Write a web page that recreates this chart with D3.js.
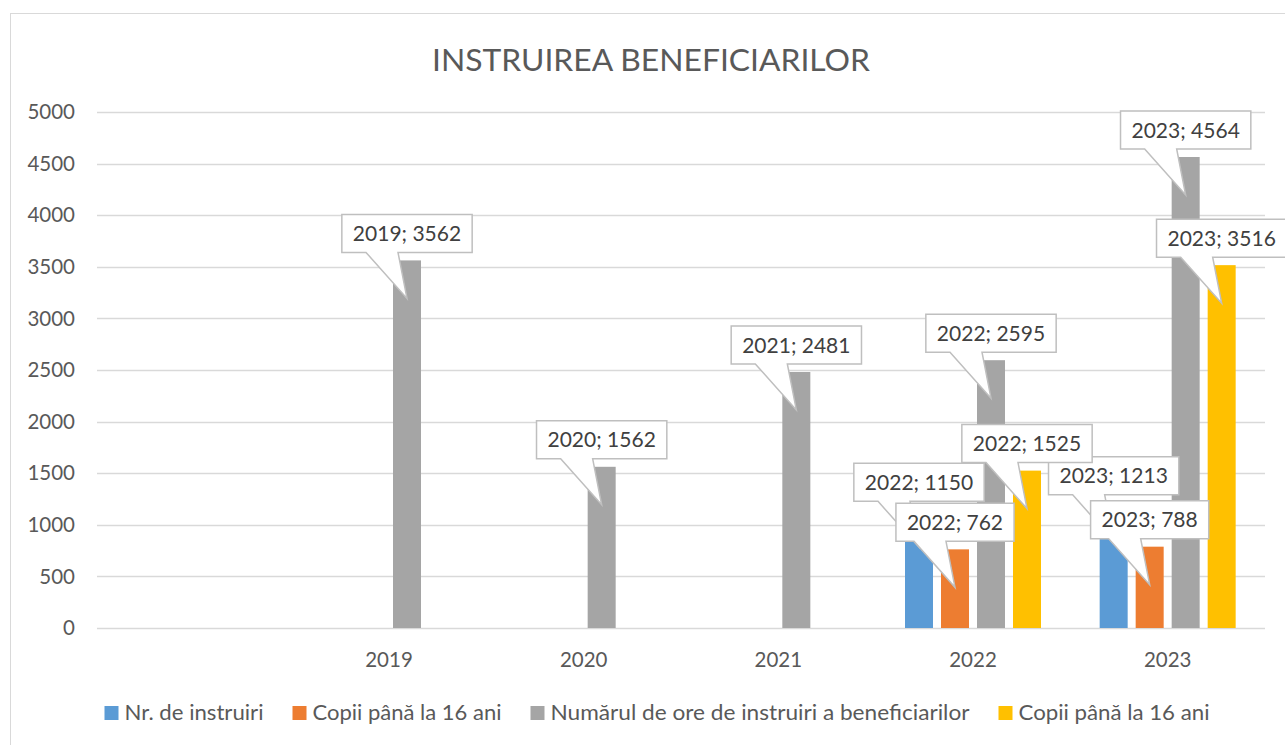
<!DOCTYPE html>
<html lang="ro">
<head>
<meta charset="UTF-8">
<title>Instruirea beneficiarilor</title>
<style>
    body { margin: 0; background: #fff; }
    text { font-family: Lato, "Open Sans", sans-serif; fill: #595959; }
    .callout text { fill: #404040; }
</style>
</head>
<body>
<svg id="main" width="1285" height="745"></svg>

<script src="https://cdn.jsdelivr.net/npm/d3@7"></script>
<script>
// data
var categories = ["", "2019", "2020", "2021", "2022", "2023"];
var seriesNames = ["Nr. de instruiri", "Copii până la 16 ani", "Numărul de ore de instruiri a beneficiarilor", "Copii până la 16 ani"];
var nrInstruiri = [null, null, null, null, 1150, 1213];
var copiiA = [null, null, null, null, 762, 788];
var oreInstruiri = [null, 3562, 1562, 2481, 2595, 4564];
var copiiB = [null, null, null, null, 1525, 3516];
var yTicks = [0, 500, 1000, 1500, 2000, 2500, 3000, 3500, 4000, 4500, 5000];
var colors = ["#5B9BD5", "#ED7D31", "#A5A5A5", "#FFC000"];

var seriesValues = [nrInstruiri, copiiA, oreInstruiri, copiiB];

var svg = d3.select("#main");
var plotL = 97, plotR = 1265, plotT = 112, plotB = 628;

// chart area border
svg.append("rect")
    .attr("x", 10.5).attr("y", 13.5)
    .attr("width", 1300).attr("height", 760)
    .attr("fill", "#fff").attr("stroke", "#d9d9d9");

svg.append("text")
    .attr("x", 651).attr("y", 71)
    .attr("text-anchor", "middle")
    .attr("textLength", 438)
    .attr("lengthAdjust", "spacingAndGlyphs")
    .style("font-size", "31px")
    .style("font-weight", 400)
    .text("INSTRUIREA BENEFICIARILOR");

var x = d3.scaleBand().domain(categories).range([plotL, plotR]).padding(0);
var groupW = 144;
var x1 = d3.scaleBand().domain(d3.range(4))
    .range([(x.bandwidth() - groupW) / 2, (x.bandwidth() + groupW) / 2])
    .paddingInner(8 / 36).paddingOuter(4 / 36);
var y = d3.scaleLinear().domain([0, 5000]).range([plotB, plotT]);

// gridlines
svg.append("g").selectAll("line").data(yTicks).join("line")
    .attr("x1", plotL).attr("x2", plotR)
    .attr("y1", function(d) { return Math.round(y(d)) + 0.5; })
    .attr("y2", function(d) { return Math.round(y(d)) + 0.5; })
    .attr("stroke", "#d9d9d9").attr("stroke-width", 1.5);

// y axis labels
svg.append("g").selectAll("text").data(yTicks).join("text")
    .attr("x", 75).attr("y", function(d) { return y(d); })
    .attr("dy", "0.35em")
    .attr("text-anchor", "end")
    .style("font-size", "20.5px")
    .text(function(d) { return d; });

// x axis labels
svg.append("g").selectAll("text").data(categories).join("text")
    .attr("x", function(d) { return x(d) + x.bandwidth() / 2; })
    .attr("y", 667)
    .attr("text-anchor", "middle")
    .style("font-size", "20.5px")
    .text(function(d) { return d; });

// bars
var points = [];
seriesValues.forEach(function(vals, s) {
    vals.forEach(function(v, i) {
        if (v == null) return;
        points.push({ s: s, cat: categories[i], v: v });
    });
});

svg.append("g").selectAll("rect").data(points).join("rect")
    .attr("x", function(d) { return x(d.cat) + x1(d.s); })
    .attr("y", function(d) { return y(d.v); })
    .attr("width", x1.bandwidth())
    .attr("height", function(d) { return plotB - y(d.v); })
    .attr("fill", function(d) { return colors[d.s]; });

// callout labels, drawn series by series
var boxH = 38, gap = 8;
var callouts = svg.append("g").attr("class", "callout");
points.forEach(function(d) {
    var cx = x(d.cat) + x1(d.s) + x1.bandwidth() / 2;
    var yTop = y(d.v);
    var g = callouts.append("g");
    var path = g.append("path");
    var t = g.append("text")
        .attr("text-anchor", "middle")
        .style("font-size", "21px")
        .text(d.cat + "; " + d.v);
    var w = t.node().getComputedTextLength() + 22;
    var x0 = cx - w / 2, x2 = cx + w / 2;
    var y1 = yTop - gap, y0 = y1 - boxH;
    var tipY = yTop + 38;
    path.attr("d", "M" + x0 + "," + y0 + "H" + x2 + "V" + y1 +
            "H" + (cx - 9) + "L" + cx + "," + tipY + "L" + (cx - 41) + "," + y1 +
            "H" + x0 + "Z")
        .attr("fill", "#fff").attr("stroke", "#bfbfbf").attr("stroke-width", 1.5);
    t.attr("x", cx).attr("y", y0 + boxH / 2).attr("dy", "0.36em");
});

// legend
var legendTextW = [139, 189, 419, 191];
var legend = svg.append("g");
var lx = 0;
seriesNames.forEach(function(name, i) {
    var g = legend.append("g");
    g.append("rect").attr("x", 0).attr("y", -7).attr("width", 14).attr("height", 14)
        .attr("fill", colors[i]);
    g.append("text").attr("x", 20).attr("y", 0).attr("dy", "0.35em")
        .attr("textLength", legendTextW[i])
        .attr("lengthAdjust", "spacingAndGlyphs")
        .style("font-size", "21px").text(name);
    g.attr("transform", "translate(" + lx + ",0)");
    lx += 20 + legendTextW[i] + 29;
});
var legendW = lx - 29;
legend.attr("transform", "translate(" + (657 - legendW / 2) + ",713)");
</script>
</body>
</html>
